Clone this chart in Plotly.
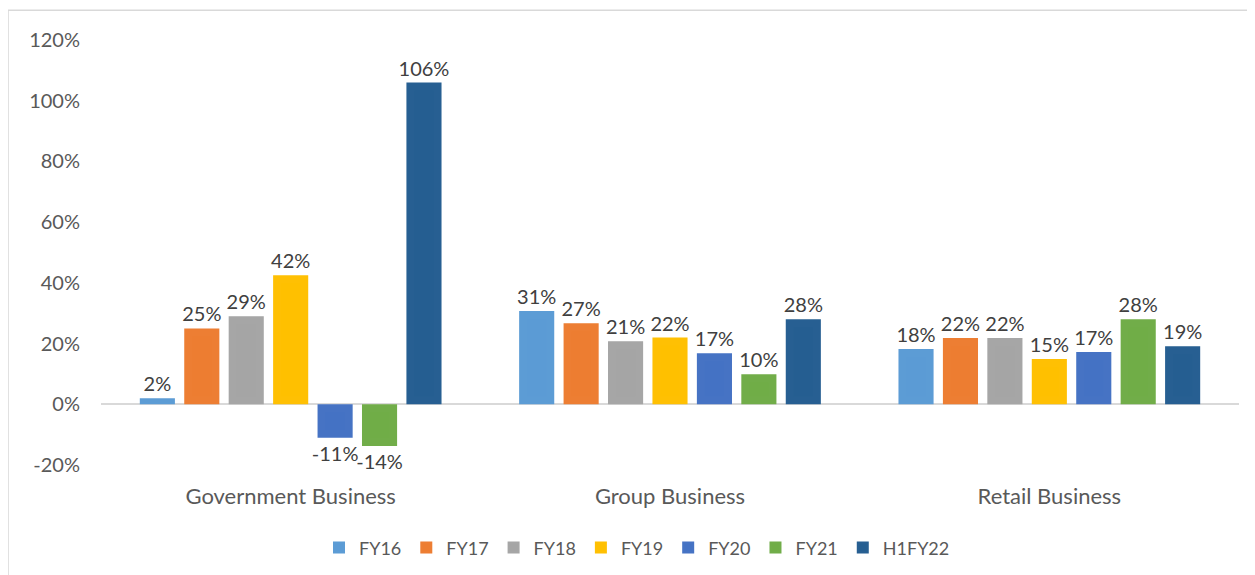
import plotly.graph_objects as go

categories = ["Government Business", "Group Business", "Retail Business"]
series_names = ["FY16", "FY17", "FY18", "FY19", "FY20", "FY21", "H1FY22"]
fy16 = [0.02, 0.307, 0.182]
fy17 = [0.25, 0.267, 0.218]
fy18 = [0.29, 0.208, 0.218]
fy19 = [0.425, 0.22, 0.149]
fy20 = [-0.11, 0.168, 0.172]
fy21 = [-0.137, 0.099, 0.28]
h1fy22 = [1.06, 0.28, 0.191]
labels = [
    ["2%", "31%", "18%"],
    ["25%", "27%", "22%"],
    ["29%", "21%", "22%"],
    ["42%", "22%", "15%"],
    ["-11%", "17%", "17%"],
    ["-14%", "10%", "28%"],
    ["106%", "28%", "19%"],
]
y_ticks = [-0.2, 0, 0.2, 0.4, 0.6, 0.8, 1.0, 1.2]
y_tick_text = ["-20%", "0%", "20%", "40%", "60%", "80%", "100%", "120%"]
colors = ["#5B9BD5", "#ED7D31", "#A5A5A5", "#FFC000", "#4472C4", "#70AD47", "#255E91"]

FONT = "Lato, 'Open Sans', sans-serif"

fig = go.Figure()
for name, vals, txt, col in zip(series_names, [fy16, fy17, fy18, fy19, fy20, fy21, h1fy22], labels, colors):
    fig.add_trace(go.Bar(
        name=name, x=categories, y=vals,
        # near-invisible outline just pushes the outside labels further from the bars
        marker=dict(color=col, line=dict(width=16, color="rgba(255,255,255,0.01)")),
        text=txt, textposition="outside", cliponaxis=False, constraintext="none",
        textfont=dict(size=20, color="#404040", family=FONT),
    ))

# page body has an 8px margin, so the figure is shifted by 8px in the screenshot
fig.update_layout(
    width=1255, height=575,
    margin=dict(l=93, r=24, t=32, b=118, autoexpand=False),
    paper_bgcolor="white", plot_bgcolor="white",
    barmode="group", bargap=0.18, bargroupgap=0.21,
    font=dict(family=FONT, color="#595959"),
    xaxis=dict(showline=False, ticks="", ticklabelstandoff=16,
               tickfont=dict(size=22, color="#595959")),
    yaxis=dict(range=[-0.2, 1.2], tickvals=y_ticks, ticktext=y_tick_text, showgrid=False,
               zeroline=True, zerolinecolor="#D9D9D9", zerolinewidth=2,
               ticks="", ticklabelstandoff=20, tickfont=dict(size=20, color="#595959")),
    legend=dict(orientation="h", x=0.471, xanchor="center", y=-0.195, yanchor="middle",
                font=dict(size=18, color="#595959"), itemwidth=30, traceorder="normal"),
    shapes=[
        dict(type="line", xref="paper", yref="paper", x0=-0.0817, x1=1.05, y0=1.07, y1=1.07,
             line=dict(color="#D9D9D9", width=1.5)),
        dict(type="line", xref="paper", yref="paper", x0=-0.0817, x1=-0.0817, y0=1.07, y1=-0.3,
             line=dict(color="#D9D9D9", width=1.5)),
    ],
)

fig.write_html("out.html")
